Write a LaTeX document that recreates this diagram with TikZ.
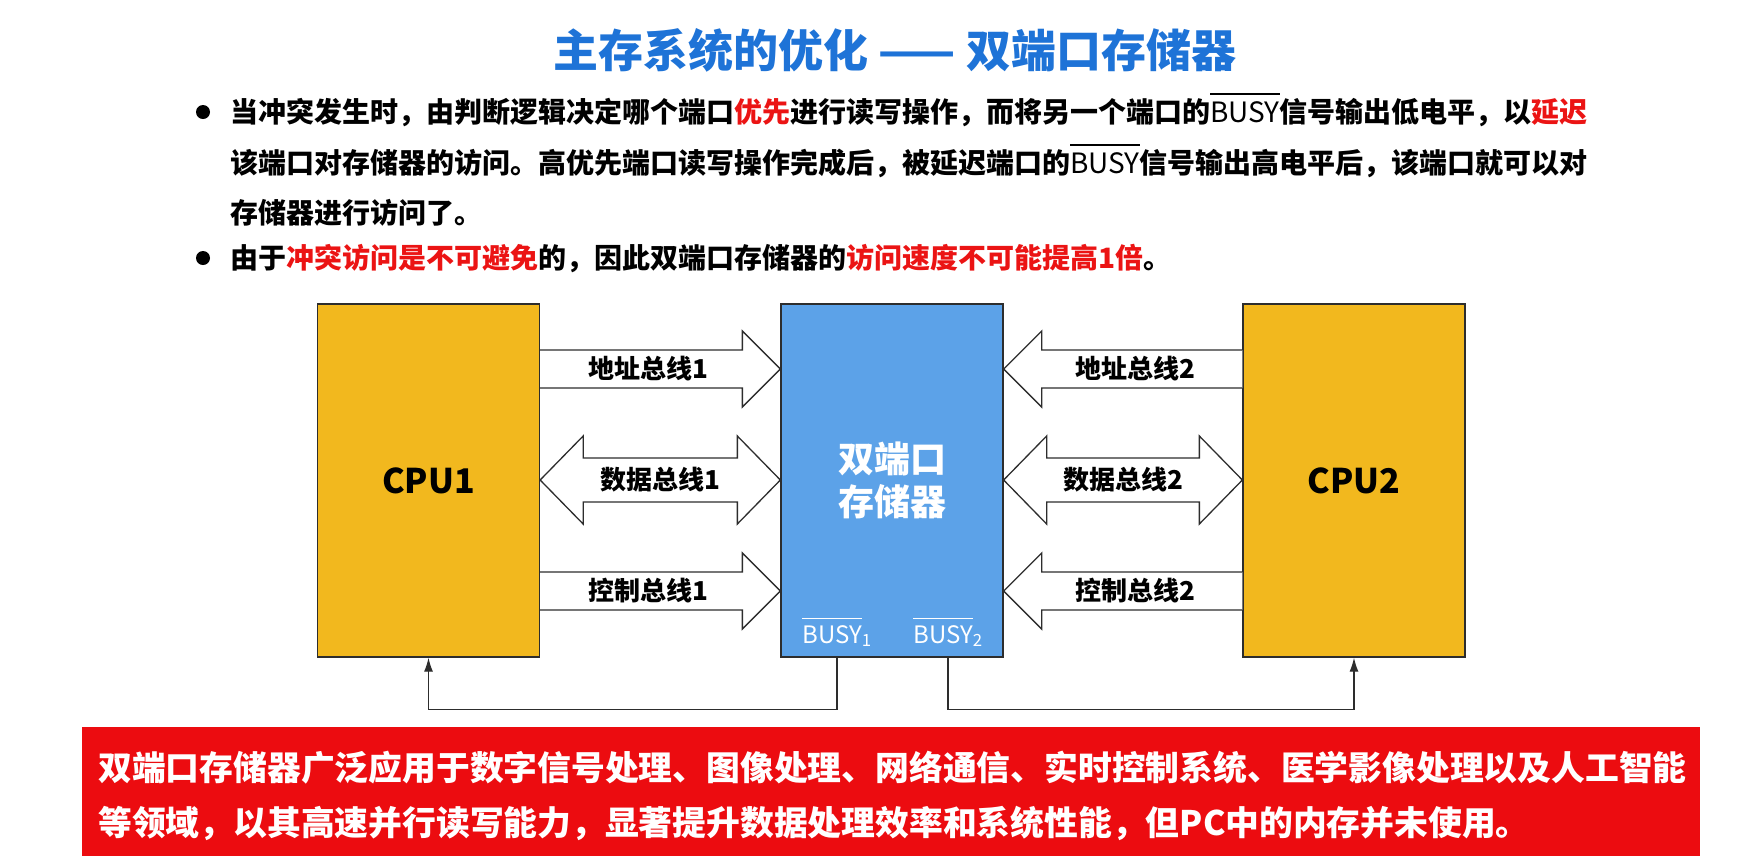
\documentclass[tikz,border=0pt]{standalone}
\usepackage{fontspec}
\setmainfont{Noto Sans CJK SC}
\usepackage{tikz}
\usepackage{xcolor}
\usetikzlibrary{calc,arrows.meta}

\definecolor{cpuyellow}{RGB}{242,184,30}
\definecolor{memblue}{RGB}{92,162,232}
\definecolor{titleblue}{RGB}{30,115,215}
\definecolor{hlred}{RGB}{235,20,20}
\definecolor{boxred}{RGB}{236,12,16}
\definecolor{edge}{RGB}{45,45,45}

\newcommand{\hl}[1]{\textcolor{hlred}{#1}}
\newcommand{\nbusy}{\leavevmode\vbox{\hrule height 0.06em\kern 0.25em\hbox{BUSY}}}

% one-way bus: from anchor, to anchor, y, direction, label
\newcommand{\onebus}[5]{%
  \path (0,#3) coordinate (by);
  \coordinate (bs) at (#1 |- by);
  \coordinate (be) at (#2 |- by);
  \draw[busarrow] ($(bs)+(0,-19)$) -- ($(be)+(-38*#4,-19)$) -- ($(be)+(-38*#4,-38)$)
    -- (be) -- ($(be)+(-38*#4,38)$) -- ($(be)+(-38*#4,19)$) -- ($(bs)+(0,19)$);
  \node[buslabel] at ($(bs)!0.45!(be)$) {#5};
}
% two-way bus: left anchor, right anchor, y, label
\newcommand{\twobus}[4]{%
  \path (0,#3) coordinate (by);
  \coordinate (bs) at (#1 |- by);
  \coordinate (be) at (#2 |- by);
  \draw[busarrow] (bs) -- ($(bs)+(43,-44)$) -- ($(bs)+(43,-22)$) -- ($(be)+(-43,-22)$)
    -- ($(be)+(-43,-44)$) -- (be) -- ($(be)+(-43,44)$) -- ($(be)+(-43,22)$)
    -- ($(bs)+(43,22)$) -- ($(bs)+(43,44)$) -- cycle;
  \node[buslabel] at ($(bs)!0.5!(be)$) {#4};
}

\begin{document}
\begin{tikzpicture}[x=1pt,y=-1pt,
  cpubox/.style={draw=edge,line width=1.3pt,fill=cpuyellow,minimum width=222pt,minimum height=353pt,
    font=\fontsize{34}{40}\selectfont\bfseries},
  membox/.style={draw=edge,line width=1.3pt,fill=memblue,minimum width=222pt,minimum height=353pt,
    text=white,align=center,font=\fontsize{36}{43}\selectfont\bfseries},
  busarrow/.style={draw=edge,line width=1.3pt,fill=white,line join=miter},
  buslabel/.style={inner sep=0pt,font=\fontsize{26}{30}\selectfont\bfseries},
  busytext/.style={inner sep=0pt,anchor=base,text=white,font=\fontsize{24}{28}\selectfont},
  fb/.style={draw=edge,line width=1.3pt,-{Latex[length=14pt,width=9pt]}},
  bullettext/.style={anchor=west,inner sep=0pt,text height=24.6pt,text depth=3.4pt,
    font=\fontsize{28}{34}\selectfont\bfseries},
  notetext/.style={anchor=west,inner sep=0pt,text=white,font=\fontsize{33.8}{40}\selectfont\bfseries}]
\useasboundingbox (0,0) rectangle (1751,863);

\node[text=titleblue,font=\fontsize{45}{50}\selectfont\bfseries] (title) at (895,50)
  {主存系统的优化 —— 双端口存储器};

\fill (203,112) circle (7pt);
\fill (203,258) circle (7pt);
\node[bullettext] (l1) at (230,112)
  {当冲突发生时，由判断逻辑决定哪个端口\hl{优先}进行读写操作，而将另一个端口的{\mdseries\nbusy}信号输出低电平，以\hl{延迟}};
\node[bullettext] (l2) at (230,163)
  {该端口对存储器的访问。高优先端口读写操作完成后，被延迟端口的{\mdseries\nbusy}信号输出高电平后，该端口就可以对};
\node[bullettext] (l3) at (230,213) {存储器进行访问了。};
\node[bullettext] (l4) at (230,258)
  {由于\hl{冲突访问是不可避免}的，因此双端口存储器的\hl{访问速度不可能提高1倍}。};

\node[cpubox] (cpuA) at (428.5,480.5) {CPU1};
\node[membox] (mem) at (892,480.5) {双端口\\存储器};
\node[cpubox] (cpuB) at (1354,480.5) {CPU2};

\onebus{cpuA.east}{mem.west}{369}{1}{地址总线1}
\twobus{cpuA.east}{mem.west}{480}{数据总线1}
\onebus{cpuA.east}{mem.west}{591}{1}{控制总线1}
\onebus{cpuB.west}{mem.east}{369}{-1}{地址总线2}
\twobus{mem.east}{cpuB.west}{480}{数据总线2}
\onebus{cpuB.west}{mem.east}{591}{-1}{控制总线2}

\node[busytext] (busyA) at (837,643) {\nbusy\textsubscript{1}};
\node[busytext] (busyB) at (948,643) {\nbusy\textsubscript{2}};

\draw[fb] (mem.south -| busyA) -- ++(0,52) -| (cpuA.south);
\draw[fb] (mem.south -| busyB) -- ++(0,52) -| (cpuB.south);

\node[fill=boxred,minimum width=1618pt,minimum height=129pt] (note) at (891,791.5) {};
\node[notetext] (n1) at (98,768)
  {双端口存储器广泛应用于数字信号处理、图像处理、网络通信、实时控制系统、医学影像处理以及人工智能};
\node[notetext] (n2) at (98,823)
  {等领域，以其高速并行读写能力，显著提升数据处理效率和系统性能，但PC中的内存并未使用。};
\end{tikzpicture}
\end{document}
